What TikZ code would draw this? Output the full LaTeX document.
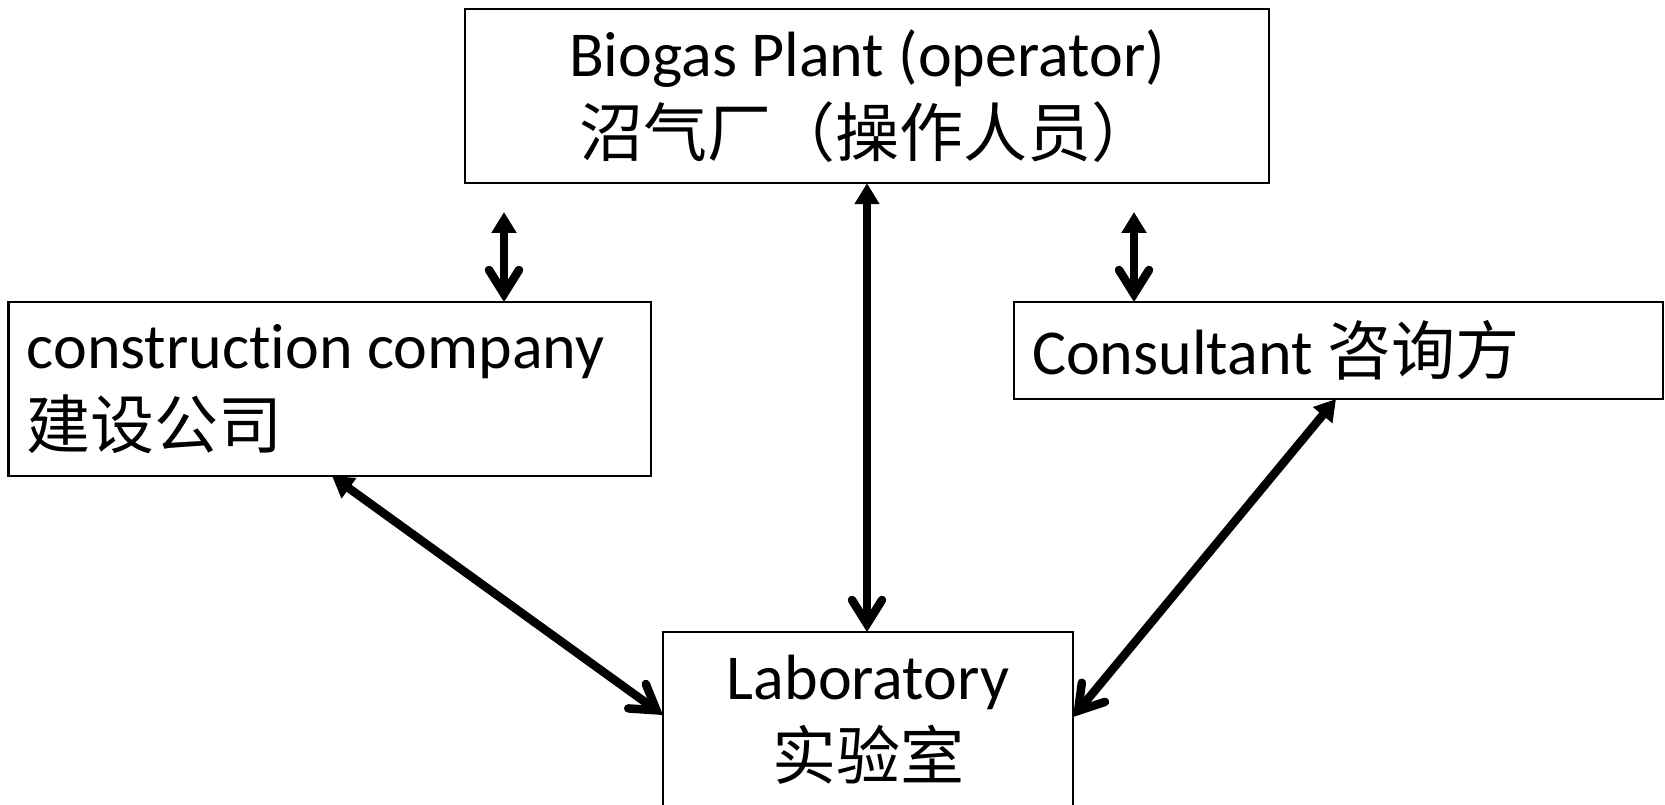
\documentclass[tikz,border=0pt]{standalone}
\usepackage{fontspec}
\setmainfont[Ligatures=NoCommon]{Carlito}
\newfontfamily\cjk{Noto Sans CJK SC}
\usetikzlibrary{arrows.meta}
\tikzset{
  box/.style={draw=black, line width=2.2pt, rectangle, inner sep=0pt, outer sep=0pt},
  lat/.style={font=\fontsize{64}{80}\selectfont},
  link/.style={line width=8.5pt, {Triangle[length=21pt,width=24pt]}-{Straight Barb[length=24pt,width=30pt,line cap=round]}}
}
\newcommand{\zh}[1]{{\cjk\fontsize{64}{80}\selectfont #1}}
\begin{document}
\begin{tikzpicture}[x=1pt,y=-1pt]
\useasboundingbox (0,0) rectangle (1665,805);
\node[box, lat, minimum width=804pt, minimum height=174.5pt, align=center] (plant) at (867,96)
  {Biogas Plant (operator)\\\zh{沼气厂（操作人员）}};
\node[box, lat, minimum width=642.5pt, minimum height=174pt, text width=606pt, inner xsep=18pt, align=flush left] (cons) at (329.75,389)
  {construction company\\\zh{建设公司}};
\node[box, lat, minimum width=649pt, minimum height=97pt, text width=613pt, inner xsep=18pt, align=flush left] (cons2) at (1338.5,350.5)
  {Consultant \zh{咨询方}};
\node[box, lat, minimum width=410pt, minimum height=176pt, align=center] (lab) at (868,720)
  {Laboratory\\\zh{实验室}};
\coordinate (c1) at (504,212);
\coordinate (c2) at (1134,212);
\draw[link] (c1) -- (c1 |- cons.north);
\draw[link] (c2) -- (c2 |- cons2.north);
\draw[link] (plant.south) -- (plant.south |- lab.north);
\draw[link] ([xshift=323.5pt]cons.south west) -- ([yshift=-83pt]lab.north west);
\draw[link] ([xshift=322pt]cons2.south west) -- ([yshift=-85pt]lab.north east);
\end{tikzpicture}
\end{document}
